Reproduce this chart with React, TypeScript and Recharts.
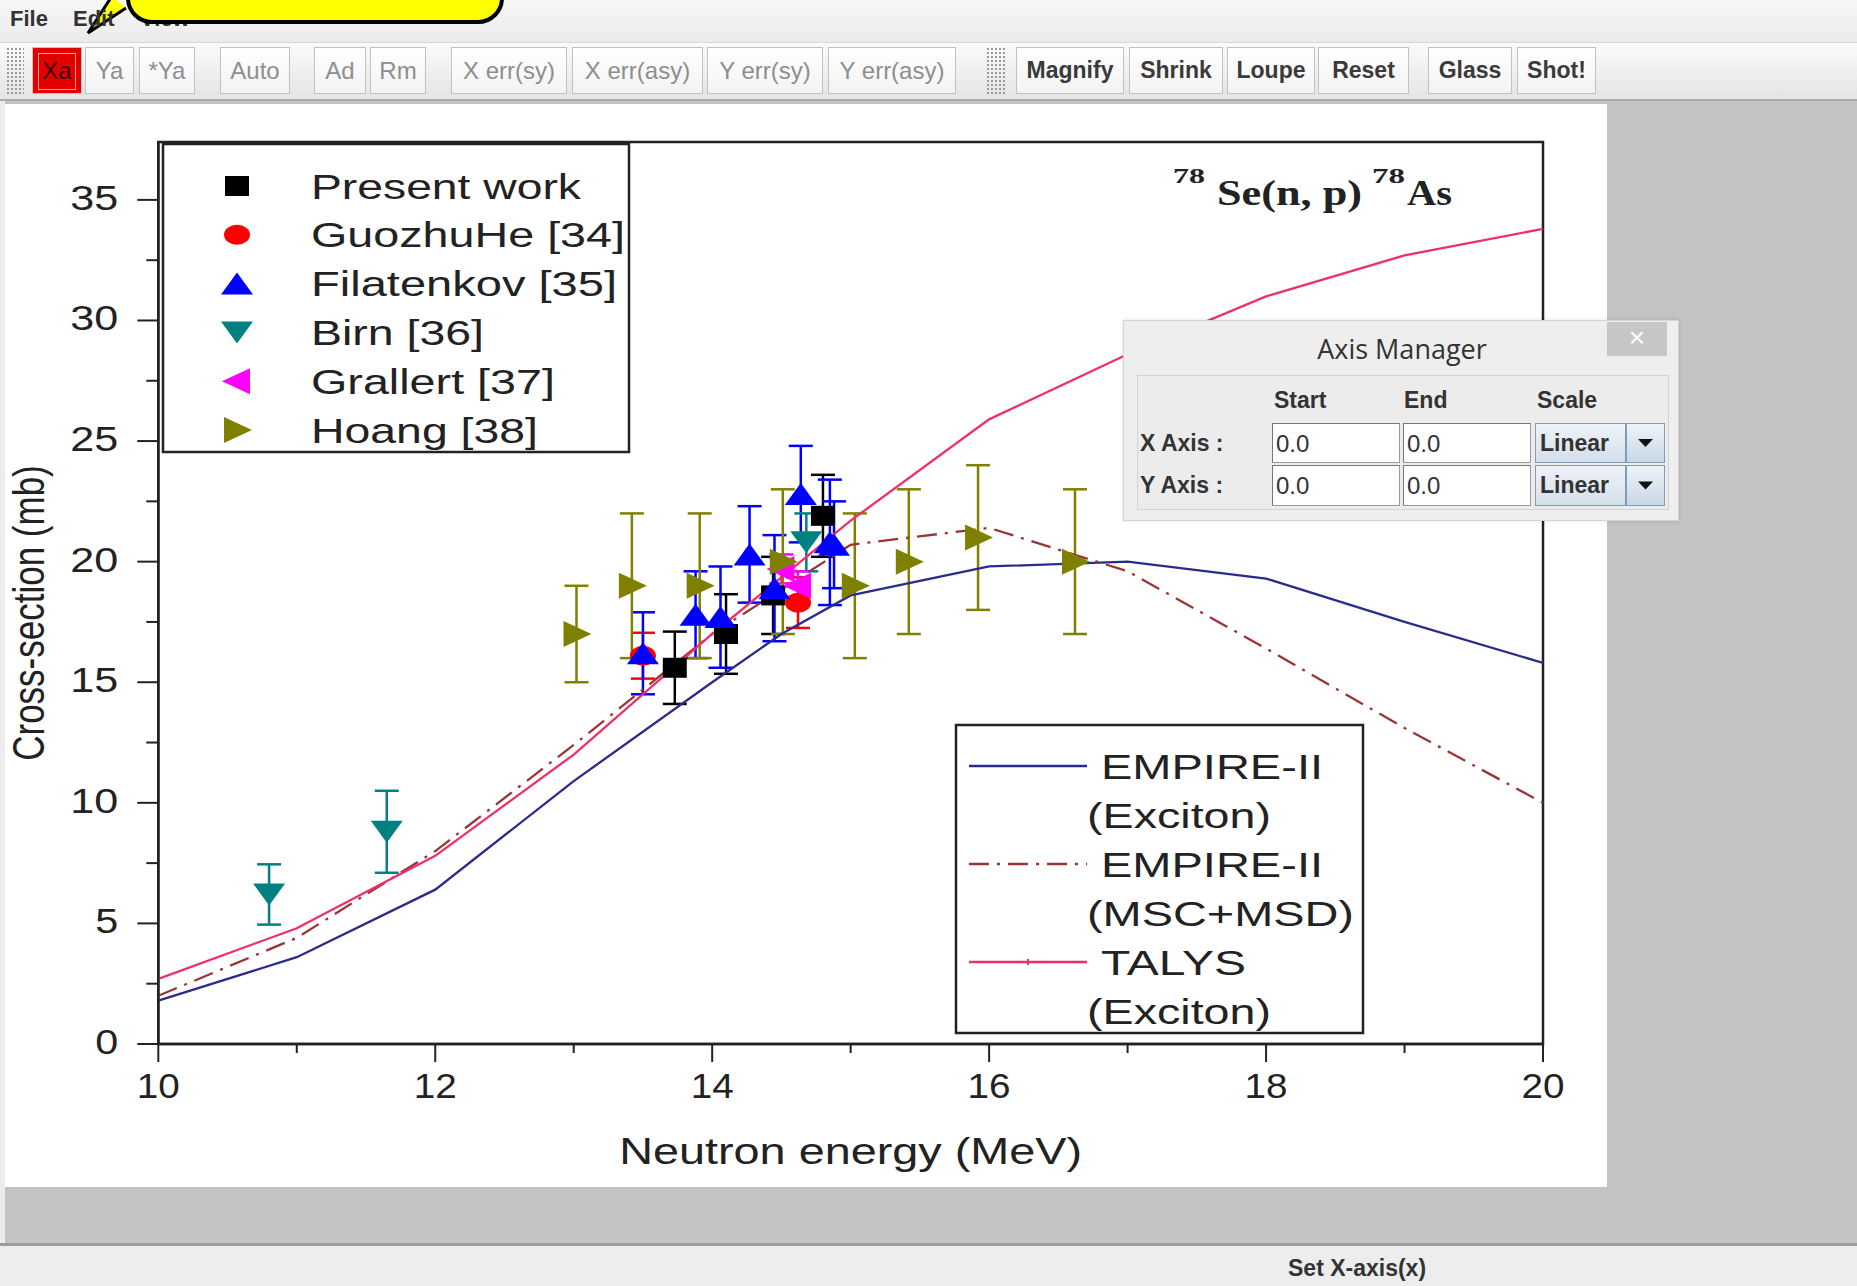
import React from 'react';
import { ComposedChart, Line, Scatter, XAxis, YAxis, ErrorBar, ReferenceArea } from 'recharts';

const xTicks = [10, 11, 12, 13, 14, 15, 16, 17, 18, 19, 20];
const yTicks = [0, 2.5, 5, 7.5, 10, 12.5, 15, 17.5, 20, 22.5, 25, 27.5, 30, 32.5, 35];

// model curves (MeV -> mb)
const modelEnergy = [10, 11, 12, 13, 14, 15, 16, 17, 18, 19, 20];
const empireExcitonEnergy = [10, 11, 12, 13, 14, 14.5, 15, 16, 17, 18, 19, 20];
const empireExcitonXs = [1.8, 3.6, 6.4, 10.9, 15.0, 17.0, 18.6, 19.8, 20.0, 19.3, 17.5, 15.8];
const empireMsdXs = [2.0, 4.4, 8.0, 12.4, 17.0, 20.7, 21.4, 19.6, 16.4, 13.1, 10.0];
const talysXs = [2.7, 4.8, 7.8, 12.0, 17.0, 21.7, 25.9, 28.6, 31.0, 32.7, 33.8];

// measurements: energy, cross-section, uncertainty
const presentE = [13.73, 14.1, 14.44, 14.8];
const presentXs = [15.6, 17.0, 18.6, 21.9];
const presentErr = [1.5, 1.65, 1.6, 1.7];

const guozhuE = [13.5, 14.62];
const guozhuXs = [16.1, 18.3];
const guozhuErr = [0.95, 1.05];

const filatenkovE = [13.5, 13.88, 14.06, 14.27, 14.45, 14.64, 14.85, 14.88];
const filatenkovXs = [16.2, 17.8, 17.7, 20.3, 18.9, 22.8, 20.8, 20.7];
const filatenkovErr = [1.7, 1.8, 2.1, 2.0, 2.2, 2.0, 2.6, 1.8];

const birnE = [10.8, 11.65, 14.68];
const birnXs = [6.2, 8.8, 20.8];
const birnErr = [1.25, 1.7, 1.2];

const grallertE = [14.5, 14.62];
const grallertXs = [19.7, 19.0];
const grallertErr = [0.6, 0.6];

const hoangE = [13.02, 13.42, 13.91, 14.51, 15.03, 15.42, 15.92, 16.62];
const hoangXs = [17.0, 19.0, 19.0, 20.0, 19.0, 20.0, 21.0, 20.0];
const hoangErr = [2.0, 3.0, 3.0, 3.0, 3.0, 3.0, 3.0, 3.0];

const zip = (xs: number[], ys: number[], es?: number[]) =>
  xs.map((x, i) => ({ x, y: ys[i], err: es ? es[i] : 0 }));

const markerSeries = [
  { name: 'Present work', color: '#000000', kind: 'square', data: zip(presentE, presentXs, presentErr), w: 270 },
  { name: 'GuozhuHe [34]', color: '#ff0000', kind: 'circle', data: zip(guozhuE, guozhuXs, guozhuErr), w: 314 },
  { name: 'Filatenkov [35]', color: '#0000ff', kind: 'up', data: zip(filatenkovE, filatenkovXs, filatenkovErr), w: 306 },
  { name: 'Birn [36]', color: '#008080', kind: 'down', data: zip(birnE, birnXs, birnErr), w: 173 },
  { name: 'Grallert [37]', color: '#ff00ff', kind: 'left', data: zip(grallertE, grallertXs, grallertErr), w: 244 },
  { name: 'Hoang [38]', color: '#808000', kind: 'right', data: zip(hoangE, hoangXs, hoangErr), w: 227 },
];

const lineSeries = [
  { name: 'EMPIRE-II', sub: '(Exciton)', color: '#2b2b8c', dash: undefined, data: zip(empireExcitonEnergy, empireExcitonXs), w: 222, sw: 184 },
  { name: 'EMPIRE-II', sub: '(MSC+MSD)', color: '#9a3535', dash: '20 8 3 8', data: zip(modelEnergy, empireMsdXs), w: 222, sw: 267 },
  { name: 'TALYS', sub: '(Exciton)', color: '#ef2f6b', dash: undefined, data: zip(modelEnergy, talysXs), w: 145, sw: 184 },
];

const ink = '#222';
const sans = "'Liberation Sans', Arial, sans-serif";

function Marker({ kind, cx, cy, color }: any) {
  if (kind === 'square') return <rect x={cx - 12} y={cy - 10} width={24} height={20} fill={color} />;
  if (kind === 'circle') return <ellipse cx={cx} cy={cy} rx={13} ry={10} fill={color} />;
  let pts: number[][] = [];
  if (kind === 'up') pts = [[cx, cy - 11], [cx - 16, cy + 11], [cx + 16, cy + 11]];
  if (kind === 'down') pts = [[cx, cy + 11], [cx - 16, cy - 11], [cx + 16, cy - 11]];
  if (kind === 'right') pts = [[cx + 15, cy], [cx - 13, cy - 13], [cx - 13, cy + 13]];
  if (kind === 'left') pts = [[cx - 15, cy], [cx + 13, cy - 13], [cx + 13, cy + 13]];
  return <polygon points={pts.map((p) => p.join(',')).join(' ')} fill={color} />;
}

const YTick = (p: any) => {
  const v = p.payload.value;
  const major = v % 5 === 0;
  const s = String(v);
  return (
    <g>
      <line x1={p.x - (major ? 21 : 12)} x2={p.x} y1={p.y} y2={p.y} stroke={ink} strokeWidth={2} />
      {major && (
        <text x={p.x - 40} y={p.y + 10} textAnchor="end" fontSize={35} fill={ink} fontFamily={sans}
          textLength={s.length * 23 + (s.length - 1) * 2} lengthAdjust="spacingAndGlyphs">{s}</text>
      )}
    </g>
  );
};

const XTick = (p: any) => {
  const v = p.payload.value;
  const major = v % 2 === 0;
  const s = String(v);
  return (
    <g>
      <line x1={p.x} x2={p.x} y1={p.y} y2={p.y + (major ? 18 : 9)} stroke={ink} strokeWidth={2} />
      {major && (
        <text x={p.x} y={p.y + 54} textAnchor="middle" fontSize={35} fill={ink} fontFamily={sans}
          textLength={43} lengthAdjust="spacingAndGlyphs">{s}</text>
      )}
    </g>
  );
};

const XTitle = (p: any) => {
  const vb = p.viewBox || { x: 153.3, y: 940, width: 1384.7 };
  return (
    <text x={vb.x + vb.width / 2} y={vb.y + 120} textAnchor="middle" fontSize={37} fill={ink} fontFamily={sans}
      textLength={463} lengthAdjust="spacingAndGlyphs">Neutron energy (MeV)</text>
  );
};

const YTitle = (p: any) => {
  const vb = p.viewBox || { x: 0, y: 38 };
  return (
    <text transform={`translate(${vb.x + 39}, ${vb.y + 471}) rotate(-90) scale(1, 1.25)`} textAnchor="middle"
      fontSize={35} fill={ink} fontFamily={sans}>Cross-section (mb)</text>
  );
};

function ChartPanel() {
  return (
    <ComposedChart width={1602} height={1083} margin={{ top: 38, right: 64, bottom: 0, left: 0 }}>
      <XAxis type="number" dataKey="x" domain={[10, 20]} ticks={xTicks} interval={0} tickSize={0} tickMargin={0}
        tickLine={false} axisLine={{ stroke: ink, strokeWidth: 2.5 }} height={143} tick={XTick}
        label={{ content: XTitle }} allowDataOverflow />
      <YAxis type="number" dataKey="y" domain={[0, 37.4]} ticks={yTicks} interval={0} tickSize={0} tickMargin={0}
        tickLine={false} axisLine={{ stroke: ink, strokeWidth: 2.5 }} width={153.3} tick={YTick}
        label={{ content: YTitle }} allowDataOverflow />
      <ReferenceArea x1={10} x2={20} y1={0} y2={37.4} fill="none" fillOpacity={0} stroke={ink} strokeWidth={2.5} ifOverflow="visible" />
      {markerSeries.map((s) => (
        <Scatter key={s.name} name={s.name} data={s.data} dataKey="y" fill={s.color} isAnimationActive={false}
          shape={(p: any) => <Marker kind={s.kind} cx={p.cx} cy={p.cy} color={s.color} />}>
          <ErrorBar dataKey="err" direction="y" width={12} stroke={s.color} strokeWidth={2.5} />
        </Scatter>
      ))}
      {lineSeries.map((s, i) => (
        <Line key={i} data={s.data} dataKey="y" type="linear" stroke={s.color} strokeWidth={2.3}
          strokeDasharray={s.dash} dot={false} activeDot={false} isAnimationActive={false} />
      ))}
    </ComposedChart>
  );
}

function Overlay() {
  return (
    <svg width={1857} height={1286} style={{ position: 'absolute', left: 0, top: 0, pointerEvents: 'none' }}>
      {/* title */}
      <g fontFamily="'Liberation Serif', 'Times New Roman', serif" fill={ink} fontWeight={700}>
        <text x={1173} y={183} fontSize={22} textLength={32} lengthAdjust="spacingAndGlyphs">78</text>
        <text x={1217} y={205} fontSize={35} textLength={145} lengthAdjust="spacingAndGlyphs">Se(n, p)</text>
        <text x={1372} y={183} fontSize={22} textLength={33} lengthAdjust="spacingAndGlyphs">78</text>
        <text x={1407} y={205} fontSize={35} textLength={45} lengthAdjust="spacingAndGlyphs">As</text>
      </g>
      {/* symbol legend */}
      <rect x={163} y={144} width={466} height={308} fill="#fff" stroke={ink} strokeWidth={2.5} />
      {markerSeries.map((s, i) => {
        const cy = 186 + i * 48.8;
        return (
          <g key={s.name}>
            <Marker kind={s.kind} cx={237} cy={cy} color={s.color} />
            <text x={311} y={cy + 12.5} fontSize={35} fill={ink} fontFamily={sans} textLength={s.w}
              lengthAdjust="spacingAndGlyphs">{s.name}</text>
          </g>
        );
      })}
      {/* model legend */}
      <rect x={956} y={725} width={407} height={308} fill="#fff" stroke={ink} strokeWidth={2.5} />
      {lineSeries.map((s, i) => {
        const cy = 766 + i * 98;
        return (
          <g key={i}>
            <line x1={969} x2={1087} y1={cy} y2={cy} stroke={s.color} strokeWidth={2.3} strokeDasharray={s.dash} />
            {i === 2 && <line x1={1028} x2={1028} y1={cy - 3} y2={cy + 3} stroke={s.color} strokeWidth={2} />}
            <text x={1101} y={cy + 13} fontSize={35} fill={ink} fontFamily={sans} textLength={s.w}
              lengthAdjust="spacingAndGlyphs">{s.name}</text>
            <text x={1087} y={cy + 62} fontSize={35} fill={ink} fontFamily={sans} textLength={s.sw}
              lengthAdjust="spacingAndGlyphs">{s.sub}</text>
          </g>
        );
      })}
    </svg>
  );
}

const toolbarButtons: [string, number, number, string][] = [
  ['Xa', 32, 50, 'active'],
  ['Ya', 85, 49, 'off'],
  ['*Ya', 139, 56, 'off'],
  ['Auto', 220, 70, 'off'],
  ['Ad', 314, 52, 'off'],
  ['Rm', 370, 56, 'off'],
  ['X err(sy)', 451, 116, 'off'],
  ['X err(asy)', 572, 131, 'off'],
  ['Y err(sy)', 707, 116, 'off'],
  ['Y err(asy)', 828, 128, 'off'],
  ['Magnify', 1016, 108, 'on'],
  ['Shrink', 1129, 94, 'on'],
  ['Loupe', 1227, 88, 'on'],
  ['Reset', 1318, 91, 'on'],
  ['Glass', 1428, 84, 'on'],
  ['Shot!', 1517, 79, 'on'],
];

const grip = (left: number, width: number) => (
  <div style={{
    position: 'absolute', left, top: 47, width, height: 47,
    backgroundImage: 'radial-gradient(#9a9a9a 1px, transparent 1.3px)', backgroundSize: '4px 4px',
  }} />
);

function Toolbar() {
  return (
    <div style={{ position: 'absolute', left: 0, top: 42, width: 1857, height: 59, boxSizing: 'border-box',
      background: 'linear-gradient(#fbfbfb, #e4e4e4)', borderBottom: '2px solid #a9a9a9', borderTop: '1px solid #d8d8d8' }}>
      {toolbarButtons.map(([label, x, w, state]) => (
        <div key={label} style={{
          position: 'absolute', left: x, top: 4, width: w, height: 47, boxSizing: 'border-box',
          border: '1px solid #c2c2c2',
          background: state === 'active' ? '#e50000' : 'linear-gradient(#ffffff, #f3f3f3)',
          display: 'flex', alignItems: 'center', justifyContent: 'center',
          fontFamily: sans, fontSize: state === 'on' ? 23 : 24, fontWeight: state === 'on' ? 700 : 400,
          color: state === 'on' ? '#3a3a3a' : state === 'active' ? '#3a0000' : '#8e8e8e',
        }}>
          {state === 'active' && (
            <div style={{ position: 'absolute', left: 5, top: 5, right: 5, bottom: 3, border: '1px solid #f4a2a2' }} />
          )}
          <span style={{ position: 'relative' }}>{label}</span>
        </div>
      ))}
    </div>
  );
}

function AxisManager() {
  const lbl: React.CSSProperties = { position: 'absolute', fontFamily: sans, fontWeight: 700, fontSize: 23, color: '#333', lineHeight: '26px' };
  const field = (left: number, top: number, h: number) => (
    <div style={{ position: 'absolute', left, top, width: 128, height: h, boxSizing: 'border-box', background: '#fff',
      border: '1px solid #9a9a9a', borderTopColor: '#777', borderLeftColor: '#777', fontFamily: sans, fontSize: 24,
      color: '#333', padding: '6px 0 0 3px' }}>0.0</div>
  );
  const combo = (top: number, h: number) => (
    <>
      <div style={{ position: 'absolute', left: 397, top, width: 91, height: h, boxSizing: 'border-box',
        background: 'linear-gradient(#eef3f8, #d4dfea)', border: '1px solid #7f9db9', fontFamily: sans, fontWeight: 700,
        fontSize: 23, color: '#333', padding: '6px 0 0 4px' }}>Linear</div>
      <div style={{ position: 'absolute', left: 488, top, width: 39, height: h, boxSizing: 'border-box',
        background: 'linear-gradient(#eef3f8, #c9d7e6)', border: '1px solid #7f9db9' }}>
        <svg width={37} height={h - 2} style={{ position: 'absolute', left: 0, top: 0 }}>
          <polygon points={`11,${h / 2 - 5} 26,${h / 2 - 5} 18.5,${h / 2 + 3}`} fill="#111" />
        </svg>
      </div>
    </>
  );
  return (
    <div style={{ position: 'absolute', left: 1123, top: 320, width: 556, height: 201, boxSizing: 'border-box',
      background: '#eeeeee', border: '1px solid #d4d4d4', boxShadow: '0 0 4px rgba(0,0,0,0.12)' }}>
      <div style={{ position: 'absolute', left: 0, top: 9, width: 556, textAlign: 'center', fontFamily: "'Open Sans', sans-serif",
        fontSize: 27, color: '#333' }}>Axis Manager</div>
      <div style={{ position: 'absolute', left: 483, top: 1, width: 60, height: 34, background: '#c6c6c6', color: '#fff',
        fontFamily: sans, fontSize: 28, textAlign: 'center', lineHeight: '32px' }}>×</div>
      <div style={{ position: 'absolute', left: 13, top: 54, width: 532, height: 135, boxSizing: 'border-box',
        background: '#ececec', border: '1px solid #d3d3d3' }}>
        <div style={{ ...lbl, left: 136, top: 11 }}>Start</div>
        <div style={{ ...lbl, left: 266, top: 11 }}>End</div>
        <div style={{ ...lbl, left: 399, top: 11 }}>Scale</div>
        <div style={{ ...lbl, left: 2, top: 54 }}>X Axis :</div>
        <div style={{ ...lbl, left: 2, top: 96 }}>Y Axis :</div>
        {field(134, 47, 40)}
        {field(265, 47, 40)}
        {combo(47, 40)}
        {field(134, 89, 41)}
        {field(265, 89, 41)}
        {combo(89, 41)}
      </div>
    </div>
  );
}

export default function App() {
  return (
    <div style={{ position: 'absolute', left: 0, top: 0, width: 1857, height: 1286, overflow: 'hidden', background: '#c3c3c3' }}>
      <style>{'body{margin:0}'}</style>
      {/* left frame strip */}
      <div style={{ position: 'absolute', left: 0, top: 42, width: 5, height: 1201, background: '#ececec' }} />
      {/* white figure panel */}
      <div style={{ position: 'absolute', left: 5, top: 104, width: 1602, height: 1083, background: '#fff' }} />
      <div style={{ position: 'absolute', left: 5, top: 104 }}>
        <ChartPanel />
      </div>
      <Overlay />
      {/* menu bar */}
      <div style={{ position: 'absolute', left: 0, top: 0, width: 1857, height: 42, background: 'linear-gradient(#f7f7f7, #ebebeb)' }} />
      {/* callout pointer */}
      <svg width={200} height={45} style={{ position: 'absolute', left: 0, top: 0 }}>
        <path d="M 112 -4 L 88 33 L 126 8" fill="#ffff00" stroke="#000" strokeWidth={3} />
      </svg>
      {['File', 'Edit', 'View'].map((m, i) => (
        <span key={m} style={{ position: 'absolute', left: [10, 73, 140][i], top: 6, fontFamily: sans, fontSize: 22,
          fontWeight: 700, color: '#333' }}>{m}</span>
      ))}
      <Toolbar />
      {grip(6, 18)}
      {grip(986, 20)}
      {/* callout box */}
      <svg width={520} height={45} style={{ position: 'absolute', left: 0, top: 0 }}>
        <rect x={128} y={-50} width={374} height={72} rx={24} fill="#ffff00" stroke="#000" strokeWidth={4} />
      </svg>
      <AxisManager />
      {/* status bar */}
      <div style={{ position: 'absolute', left: 0, top: 1243, width: 1857, height: 43, boxSizing: 'border-box',
        background: '#ededed', borderTop: '3px solid #9c9c9c' }}>
        <span style={{ position: 'absolute', left: 1288, top: 9, fontFamily: sans, fontSize: 23, fontWeight: 700, color: '#333' }}>Set X-axis(x)</span>
      </div>
    </div>
  );
}
